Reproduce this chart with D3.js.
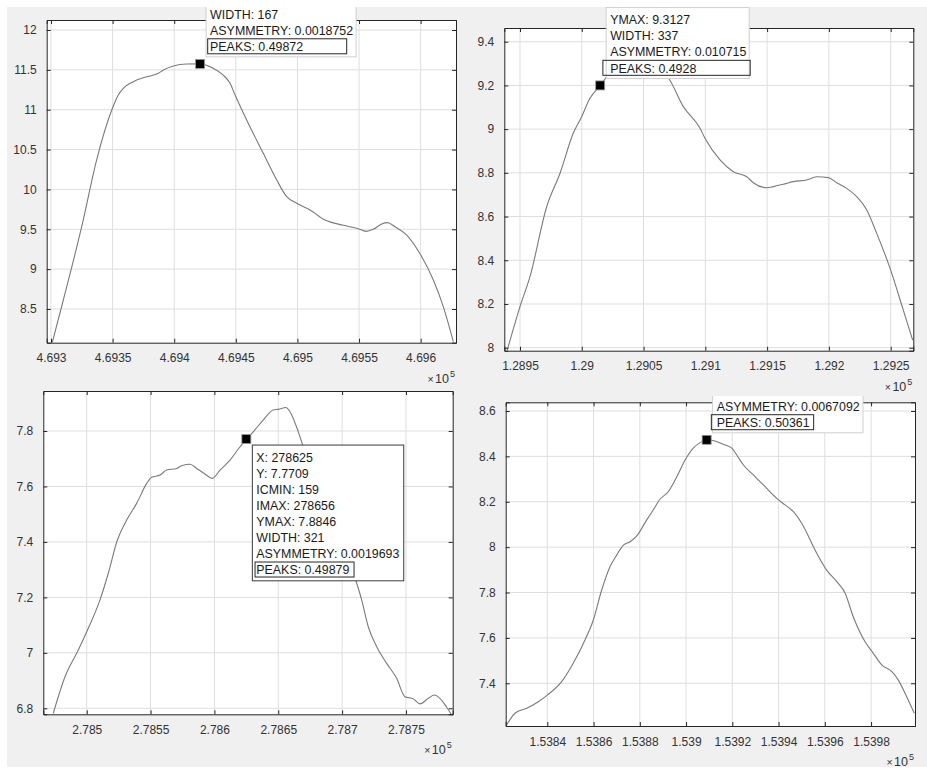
<!DOCTYPE html>
<html>
<head>
<meta charset="utf-8">
<script src="https://cdn.jsdelivr.net/npm/d3@7"></script>
<style>
  html, body { margin: 0; padding: 0; background: #ffffff; }
  svg { display: block; }
</style>
</head>
<body>
<svg id="fig" width="927" height="769"></svg>
<script>
// ---- Panel 1: peak near 4.6942e5 ----
const p1X = [469301, 469310, 469324.9, 469337, 469349.3, 469354.6, 469358.7, 469366.8, 469374.9, 469387.1,
             469391.2, 469399.3, 469410.1, 469421, 469431.7, 469439.8, 469445.3, 469449.4, 469458.8, 469472.3,
             469483.2, 469491.3, 469499.4, 469510.2, 469522.4, 469537.3, 469549.4, 469555.7, 469561.6, 469568.4,
             469573, 469579.2, 469588.7, 469600.1, 469610.3, 469618.4, 469626.5];
const p1Y = [8.077, 8.613, 9.532, 10.369, 10.996, 11.185, 11.268, 11.352, 11.402, 11.457,
             11.498, 11.548, 11.573, 11.575, 11.519, 11.435, 11.331, 11.185, 10.871, 10.453,
             10.118, 9.909, 9.826, 9.742, 9.616, 9.55, 9.507, 9.474, 9.5, 9.566,
             9.583, 9.532, 9.428, 9.177, 8.864, 8.529, 8.09];
const p1XLim = [469296.5, 469628.7];
const p1YLim = [8.0772, 12.1255];
const p1XTicks = [469300, 469350, 469400, 469450, 469500, 469550, 469600];
const p1YTicks = [8.5, 9, 9.5, 10, 10.5, 11, 11.5, 12];
const p1Mark = [469421, 11.575];
const p1Tip = ["WIDTH: 167", "ASYMMETRY: 0.0018752", "PEAKS: 0.49872"];

// ---- Panel 2: peak near 1.2905e5 ----
const p2X = [128939.7, 128950, 128958.1, 128971.6, 128982.4, 128993.1, 128999.9, 129006.6, 129014.9, 129022,
             129030, 129040, 129050, 129058, 129066, 129070, 129082.2, 129095.7, 129099.7, 129111.9,
             129122.6, 129133.5, 129138.8, 129149.6, 129155, 129163.1, 129171.2, 129182, 129190.1, 129199.5,
             129206.3, 129214.4, 129222.5, 129230.6, 129238.7, 129250, 129260.2, 129267.8];
const p2Y = [7.989, 8.188, 8.325, 8.645, 8.798, 8.981, 9.057, 9.141, 9.2, 9.25,
             9.285, 9.305, 9.3127, 9.3, 9.26, 9.235, 9.103, 9.004, 8.958, 8.859,
             8.805, 8.782, 8.755, 8.732, 8.737, 8.748, 8.76, 8.767, 8.782, 8.778,
             8.755, 8.729, 8.691, 8.63, 8.523, 8.355, 8.172, 8.035];
const p2XLim = [128937.3, 129268.3];
const p2YLim = [7.9863, 9.4627];
const p2XTicks = [128950, 129000, 129050, 129100, 129150, 129200, 129250];
const p2YTicks = [8, 8.2, 8.4, 8.6, 8.8, 9, 9.2, 9.4];
const p2Mark = [129014.9, 9.2];
const p2Tip = ["YMAX: 9.3127", "WIDTH: 337", "ASYMMETRY: 0.010715", "PEAKS: 0.4928"];

// ---- Panel 3: peak near 2.7866e5 ----
const p3X = [278473.8, 278483, 278493.4, 278500, 278510.4, 278516.9, 278524, 278531.3, 278539.1, 278547,
             278550.9, 278557.4, 278562.6, 278570.5, 278574.4, 278580.9, 278586.1, 278592.6, 278598.3, 278604.4,
             278612.2, 278618.7, 278625, 278630.4, 278638.3, 278646.1, 278650, 278656, 278660.5, 278665.7,
             278669.6, 278680, 278690, 278700, 278708, 278710.9, 278715.3, 278720.5, 278727.1, 278734.9,
             278742.7, 278749.2, 278755.7, 278761, 278767.5, 278772.2, 278776.6, 278781.9, 278786.6];
const p3Y = [6.782, 6.914, 7.01, 7.076, 7.191, 7.287, 7.407, 7.479, 7.539, 7.611,
             7.633, 7.641, 7.659, 7.665, 7.675, 7.68, 7.665, 7.645, 7.629, 7.659,
             7.695, 7.735, 7.7709, 7.797, 7.84, 7.876, 7.878, 7.8846, 7.858, 7.797,
             7.743, 7.62, 7.5, 7.38, 7.3, 7.259, 7.191, 7.094, 7.022, 6.962,
             6.908, 6.842, 6.834, 6.816, 6.836, 6.848, 6.836, 6.804, 6.77];
const p3XLim = [278466, 278786.6];
const p3YLim = [6.7784, 7.9442];
const p3XTicks = [278500, 278550, 278600, 278650, 278700, 278750];
const p3YTicks = [6.8, 7, 7.2, 7.4, 7.6, 7.8];
const p3Mark = [278625, 7.7709];
const p3Tip = ["X: 278625", "Y: 7.7709", "ICMIN: 159", "IMAX: 278656", "YMAX: 7.8846",
               "WIDTH: 321", "ASYMMETRY: 0.0019693", "PEAKS: 0.49879"];

// ---- Panel 4: peak near 1.5391e5 ----
const p4X = [153822.4, 153826, 153831.1, 153836.1, 153840, 153846.2, 153851.2, 153856.3, 153859.9, 153863.5,
             153867.1, 153870, 153872.9, 153875.8, 153878.7, 153883, 153885.8, 153888.7, 153892.3, 153896,
             153899.6, 153903.1, 153906.8, 153908.9, 153912.5, 153916.9, 153919.8, 153921.9, 153924.8, 153929.1,
             153933.4, 153939.2, 153942.8, 153946.4, 153950, 153956.5, 153960.8, 153965.2, 153968.8, 153972.3,
             153977.4, 153981, 153984.6, 153989, 153991.8, 153995.4, 153998.7];
const p4Y = [7.216, 7.268, 7.29, 7.319, 7.348, 7.407, 7.488, 7.591, 7.679, 7.811,
             7.914, 7.965, 8.009, 8.024, 8.05, 8.12, 8.164, 8.211, 8.244, 8.31,
             8.384, 8.436, 8.465, 8.473, 8.468, 8.45, 8.436, 8.406, 8.362, 8.318,
             8.274, 8.215, 8.186, 8.156, 8.105, 7.973, 7.899, 7.848, 7.797, 7.693,
             7.583, 7.532, 7.481, 7.451, 7.414, 7.341, 7.268];
const p4XLim = [153822, 153999];
const p4YLim = [7.2118, 8.6383];
const p4XTicks = [153840, 153860, 153880, 153900, 153920, 153940, 153960, 153980];
const p4YTicks = [7.4, 7.6, 7.8, 8, 8.2, 8.4, 8.6];
const p4Mark = [153908.9, 8.473];
const p4Tip = ["ASYMMETRY: 0.0067092", "PEAKS: 0.50361"];

// ---- Layout and style ----
const FONT = '"Liberation Sans", Arial, Helvetica, sans-serif';
const AX = "#262626", GRID = "#dedede", LINE = "#7a7a7a";
const EXP = 1e5;

const panels = [
  { x: p1X, y: p1Y, xLim: p1XLim, yLim: p1YLim, xt: p1XTicks, yt: p1YTicks, mark: p1Mark, tip: p1Tip,
    box: { l: 46.7, t: 20, w: 409.3, h: 322.7 },
    tipCfg: { side: "above", clipTop: 7, w: 150, border: "#cfcfcf", peakDx: 1.6, peakW: 139 } },
  { x: p2X, y: p2Y, xLim: p2XLim, yLim: p2YLim, xt: p2XTicks, yt: p2YTicks, mark: p2Mark, tip: p2Tip,
    box: { l: 504.3, t: 28, w: 409, h: 322.7 },
    tipCfg: { side: "above", clipTop: 7, w: 143, border: "#cfcfcf", peakDx: -3.3, peakW: 147.3 } },
  { x: p3X, y: p3Y, xLim: p3XLim, yLim: p3YLim, xt: p3XTicks, yt: p3YTicks, mark: p3Mark, tip: p3Tip,
    box: { l: 43.3, t: 391, w: 409.4, h: 323.3 },
    tipCfg: { side: "below", clipTop: 0, w: 151.4, border: "#3a3a3a", peakDx: 2.7, peakW: 99 } },
  { x: p4X, y: p4Y, xLim: p4XLim, yLim: p4YLim, xt: p4XTicks, yt: p4YTicks, mark: p4Mark, tip: p4Tip,
    box: { l: 505.7, t: 402.3, w: 409.3, h: 323.7 },
    tipCfg: { side: "above", clipTop: 396, w: 150.3, border: "#cfcfcf", peakDx: -1.3, peakW: 102.3 } }
];

const svg = d3.select("#fig");
const defs = svg.append("defs");

// figure background
svg.append("rect").attr("x", 7).attr("y", 7).attr("width", 920).attr("height", 760).attr("fill", "#f0f0f0");

const fmtX = v => String(parseFloat((v / EXP).toFixed(6)));
const fmtY = v => String(parseFloat(v.toFixed(4)));

const tipLayers = [];

panels.forEach((p, i) => {
  const b = p.box;
  const xs = d3.scaleLinear().domain(p.xLim).range([b.l, b.l + b.w]);
  const ys = d3.scaleLinear().domain(p.yLim).range([b.t + b.h, b.t]);
  const g = svg.append("g").attr("class", "panel" + (i + 1));

  g.append("rect").attr("x", b.l).attr("y", b.t).attr("width", b.w).attr("height", b.h).attr("fill", "#ffffff");

  // grid
  g.append("g").selectAll("line").data(p.xt).join("line")
    .attr("x1", d => xs(d)).attr("x2", d => xs(d)).attr("y1", b.t).attr("y2", b.t + b.h)
    .attr("stroke", GRID).attr("stroke-width", 1);
  g.append("g").selectAll("line").data(p.yt).join("line")
    .attr("y1", d => ys(d)).attr("y2", d => ys(d)).attr("x1", b.l).attr("x2", b.l + b.w)
    .attr("stroke", GRID).attr("stroke-width", 1);

  // curve clipped to the axes
  const cid = "clip" + i;
  defs.append("clipPath").attr("id", cid).append("rect")
    .attr("x", b.l).attr("y", b.t).attr("width", b.w).attr("height", b.h);
  const line = d3.line().x(d => xs(d[0])).y(d => ys(d[1])).curve(d3.curveMonotoneX);
  g.append("path").datum(p.x.map((v, k) => [v, p.y[k]]))
    .attr("clip-path", `url(#${cid})`)
    .attr("d", line).attr("fill", "none").attr("stroke", LINE).attr("stroke-width", 1.1);

  // axes with inward ticks on all sides
  const tl = 4;
  const axB = d3.axisBottom(xs).tickValues(p.xt).tickSize(-tl).tickPadding(tl + 7).tickFormat(fmtX);
  const axT = d3.axisTop(xs).tickValues(p.xt).tickSize(-tl).tickFormat("");
  const axL = d3.axisLeft(ys).tickValues(p.yt).tickSize(-tl).tickPadding(tl + 6).tickFormat(fmtY);
  const axR = d3.axisRight(ys).tickValues(p.yt).tickSize(-tl).tickFormat("");
  const style = sel => {
    sel.select(".domain").attr("stroke", AX).attr("stroke-width", 1);
    sel.selectAll(".tick line").attr("stroke", AX).attr("stroke-width", 1);
    sel.selectAll(".tick text").attr("fill", "#333333").attr("font-family", FONT).attr("font-size", 12);
  };
  g.append("g").attr("transform", `translate(0,${b.t + b.h})`).call(axB).call(style);
  g.append("g").attr("transform", `translate(0,${b.t})`).call(axT).call(style);
  g.append("g").attr("transform", `translate(${b.l},0)`).call(axL).call(style);
  g.append("g").attr("transform", `translate(${b.l + b.w},0)`).call(axR).call(style);

  // x exponent label
  const ex = g.append("text").attr("x", b.l + b.w - 1).attr("y", b.t + b.h + 40)
    .attr("text-anchor", "end").attr("font-family", FONT).attr("fill", "#333333");
  ex.append("tspan").attr("font-size", 10.5).text("\u00d7");
  ex.append("tspan").attr("font-size", 12.5).attr("dx", 1.5).text("10");
  ex.append("tspan").attr("font-size", 9).attr("dy", -6).attr("dx", 1).text(String(Math.log10(EXP)));

  tipLayers.push({ p, xs, ys });
});

// data tips drawn on top of every panel
tipLayers.forEach(({ p, xs, ys }, i) => {
  const c = p.tipCfg;
  const mx = xs(p.mark[0]), my = ys(p.mark[1]);
  const g = svg.append("g").attr("class", "tip" + (i + 1));
  if (c.clipTop > 0) {
    const id = "tipclip" + i;
    defs.append("clipPath").attr("id", id).append("rect")
      .attr("x", 0).attr("y", c.clipTop).attr("width", 927).attr("height", 769 - c.clipTop);
    g.attr("clip-path", `url(#${id})`);
  }
  const lh = 16.05, n = p.tip.length;
  const left = mx + 6;
  let firstC, boxTop, boxBot;
  if (c.side === "below") {
    boxTop = my + 6;
    firstC = boxTop + 12.4;
    boxBot = firstC + (n - 1) * lh + 11;
  } else {
    boxBot = my - 7;
    firstC = boxBot - 10.3 - (n - 1) * lh;
    boxTop = firstC - 12.4;
  }
  g.append("rect").attr("x", left).attr("y", boxTop).attr("width", c.w).attr("height", boxBot - boxTop)
    .attr("fill", "#ffffff").attr("stroke", c.border).attr("stroke-width", 1);
  const lastC = firstC + (n - 1) * lh;
  g.append("rect").attr("x", left + c.peakDx).attr("y", lastC - 7.8).attr("width", c.peakW).attr("height", 15)
    .attr("fill", "none").attr("stroke", "#262626").attr("stroke-width", 1);
  g.selectAll("text.tl").data(p.tip).join("text").attr("class", "tl")
    .attr("x", left + 4).attr("y", (d, k) => firstC + k * lh + 4.4)
    .attr("font-family", FONT).attr("font-size", 12.4).attr("fill", "#1a1a1a").text(d => d);

  // marker
  svg.append("rect").attr("x", mx - 4.5).attr("y", my - 4.5).attr("width", 9).attr("height", 9)
    .attr("fill", "#000000").attr("stroke", "#9a9a9a").attr("stroke-width", 0.8);
});
</script>
</body>
</html>
